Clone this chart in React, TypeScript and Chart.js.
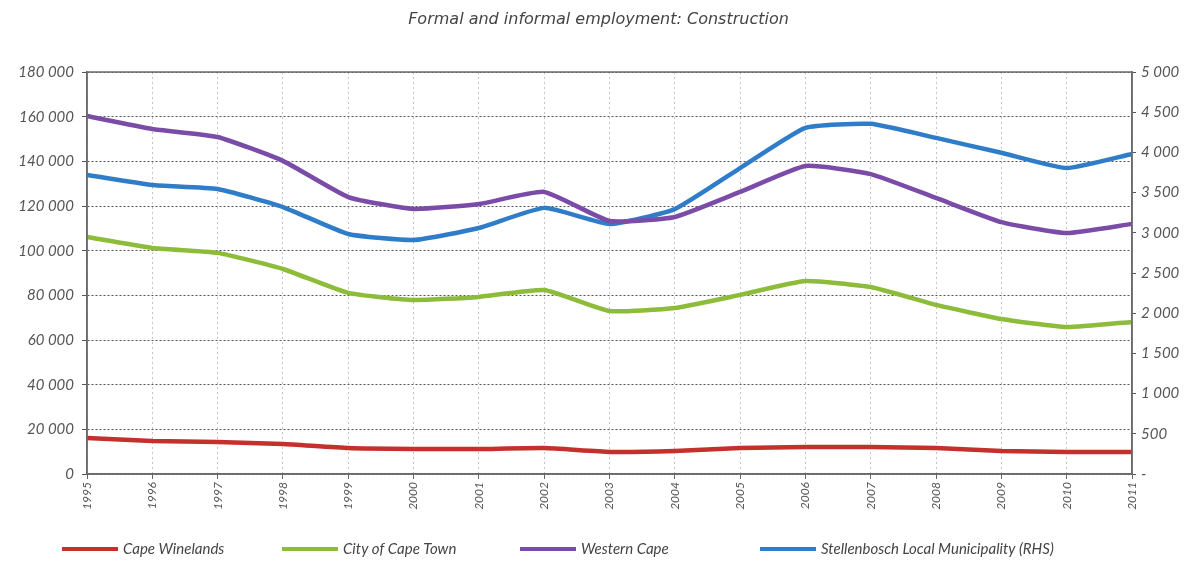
import React, { useEffect, useRef } from "react";
import { Chart, registerables } from "chart.js";

Chart.register(...registerables);

const years = ["1995", "1996", "1997", "1998", "1999", "2000", "2001", "2002", "2003", "2004", "2005", "2006", "2007", "2008", "2009", "2010", "2011"];
const capeWinelands = [16100, 14800, 14300, 13400, 11600, 11200, 11200, 11600, 9900, 10300, 11600, 12100, 12100, 11600, 10300, 9900, 9900];
const cityOfCapeTown = [106100, 101200, 99000, 91800, 81100, 77900, 79300, 82400, 73000, 74300, 80200, 86400, 83700, 75700, 69400, 65800, 68100];
const westernCape = [160300, 154500, 150900, 140200, 124000, 118700, 120900, 126300, 113300, 115100, 126300, 137900, 134300, 123600, 112800, 107900, 112000];
const stellenbosch = [3720, 3595, 3545, 3320, 2985, 2910, 3060, 3310, 3110, 3295, 3805, 4305, 4355, 4180, 3995, 3805, 3980];

const titleText = "Formal and informal employment: Construction";
const seriesNames = ["Cape Winelands", "City of Cape Town", "Western Cape", "Stellenbosch Local Municipality (RHS)"];
const seriesColors = ["#c4302b", "#8dbb3a", "#7a4ca8", "#2f7cc9"];

const FONT = "Lato, 'Open Sans', sans-serif";
const TEXT = "#555";

// legend layout (style only)
const legendStarts = [62, 282, 520, 760];
const legendY = 549;
const legendLine = 56;

function fmt(v: number): string {
  return String(v).replace(/\B(?=(\d{3})+(?!\d))/g, " ");
}

const framePlugin = {
  id: "frame",
  afterDatasetsDraw(chart: any) {
    const { ctx, chartArea } = chart;
    ctx.save();
    ctx.strokeStyle = "#6b6b6b";
    ctx.lineWidth = 1.5;
    ctx.setLineDash([]);
    ctx.strokeRect(chartArea.left, chartArea.top, chartArea.right - chartArea.left, chartArea.bottom - chartArea.top);
    ctx.restore();
  },
};

const legendPlugin = {
  id: "fixedLegend",
  afterDraw(chart: any) {
    const { ctx } = chart;
    ctx.save();
    chart.data.datasets.forEach((ds: any, i: number) => {
      const x = legendStarts[i];
      ctx.strokeStyle = ds.borderColor;
      ctx.lineWidth = 4;
      ctx.setLineDash([]);
      ctx.beginPath();
      ctx.moveTo(x, legendY);
      ctx.lineTo(x + legendLine, legendY);
      ctx.stroke();
      ctx.fillStyle = "#444";
      ctx.font = `italic 15px ${FONT}`;
      ctx.textBaseline = "middle";
      ctx.textAlign = "left";
      ctx.fillText(ds.label, x + legendLine + 5, legendY);
    });
    ctx.restore();
  },
};

export default function App() {
  const ref = useRef<HTMLCanvasElement | null>(null);

  useEffect(() => {
    document.body.style.margin = "0";
    const canvas = ref.current;
    if (!canvas) return;
    const series = [capeWinelands, cityOfCapeTown, westernCape, stellenbosch];
    const chart = new Chart(canvas, {
      type: "line",
      data: {
        labels: years,
        datasets: series.map((d, i) => ({
          label: seriesNames[i],
          data: d,
          borderColor: seriesColors[i],
          backgroundColor: seriesColors[i],
          borderWidth: 4.5,
          pointRadius: 0,
          tension: 0.15,
          yAxisID: i === 3 ? "y1" : "y",
        })),
      },
      options: {
        animation: false,
        responsive: false,
        layout: { padding: 0 },
        plugins: {
          title: {
            display: true,
            text: titleText,
            color: "#444",
            font: { family: "'DejaVu Sans', sans-serif", size: 16, style: "italic", weight: "normal" },
            padding: { top: 10, bottom: 42.8 },
          },
          legend: { display: false },
          tooltip: { enabled: false },
        },
        scales: {
          x: {
            afterFit: (s: any) => {
              s.height = 92;
            },
            grid: {
              color: "#c4c4c4",
              tickColor: "#666",
              tickBorderDash: [],
              tickLength: 5,
              drawTicks: true,
            },
            border: { display: true, color: "#666", width: 1.5, dash: [2, 3] },
            ticks: {
              color: TEXT,
              maxRotation: 90,
              minRotation: 90,
              autoSkip: false,
              padding: 3,
              font: { family: FONT, size: 12, style: "italic" },
            },
          },
          y: {
            position: "left",
            min: 0,
            max: 180000,
            afterFit: (s: any) => {
              s.width = 87;
            },
            ticks: {
              stepSize: 20000,
              color: TEXT,
              padding: 8,
              font: { family: FONT, size: 15, style: "italic" },
              callback: (v: any) => fmt(Number(v)),
            },
            grid: {
              color: "#555",
              tickColor: "#555",
              tickBorderDash: [],
              tickLength: 5,
            },
            border: { display: true, color: "#666", width: 1.5, dash: [2, 2] },
          },
          y1: {
            position: "right",
            min: 0,
            max: 5000,
            afterFit: (s: any) => {
              s.width = 65;
            },
            ticks: {
              stepSize: 500,
              color: TEXT,
              padding: 5,
              font: { family: FONT, size: 15, style: "italic" },
              callback: (v: any) => (Number(v) === 0 ? "-" : fmt(Number(v))),
            },
            grid: {
              drawOnChartArea: false,
              tickColor: "#555",
              tickLength: 4,
            },
            border: { display: true, color: "#666", width: 1.5 },
          },
        },
      },
      plugins: [framePlugin, legendPlugin],
    } as any);
    return () => chart.destroy();
  }, []);

  return (
    <div style={{ position: "fixed", left: 0, top: 0, width: 1197, height: 566, background: "#fff" }}>
      <canvas ref={ref} width={1197} height={566} style={{ display: "block" }} />
    </div>
  );
}
